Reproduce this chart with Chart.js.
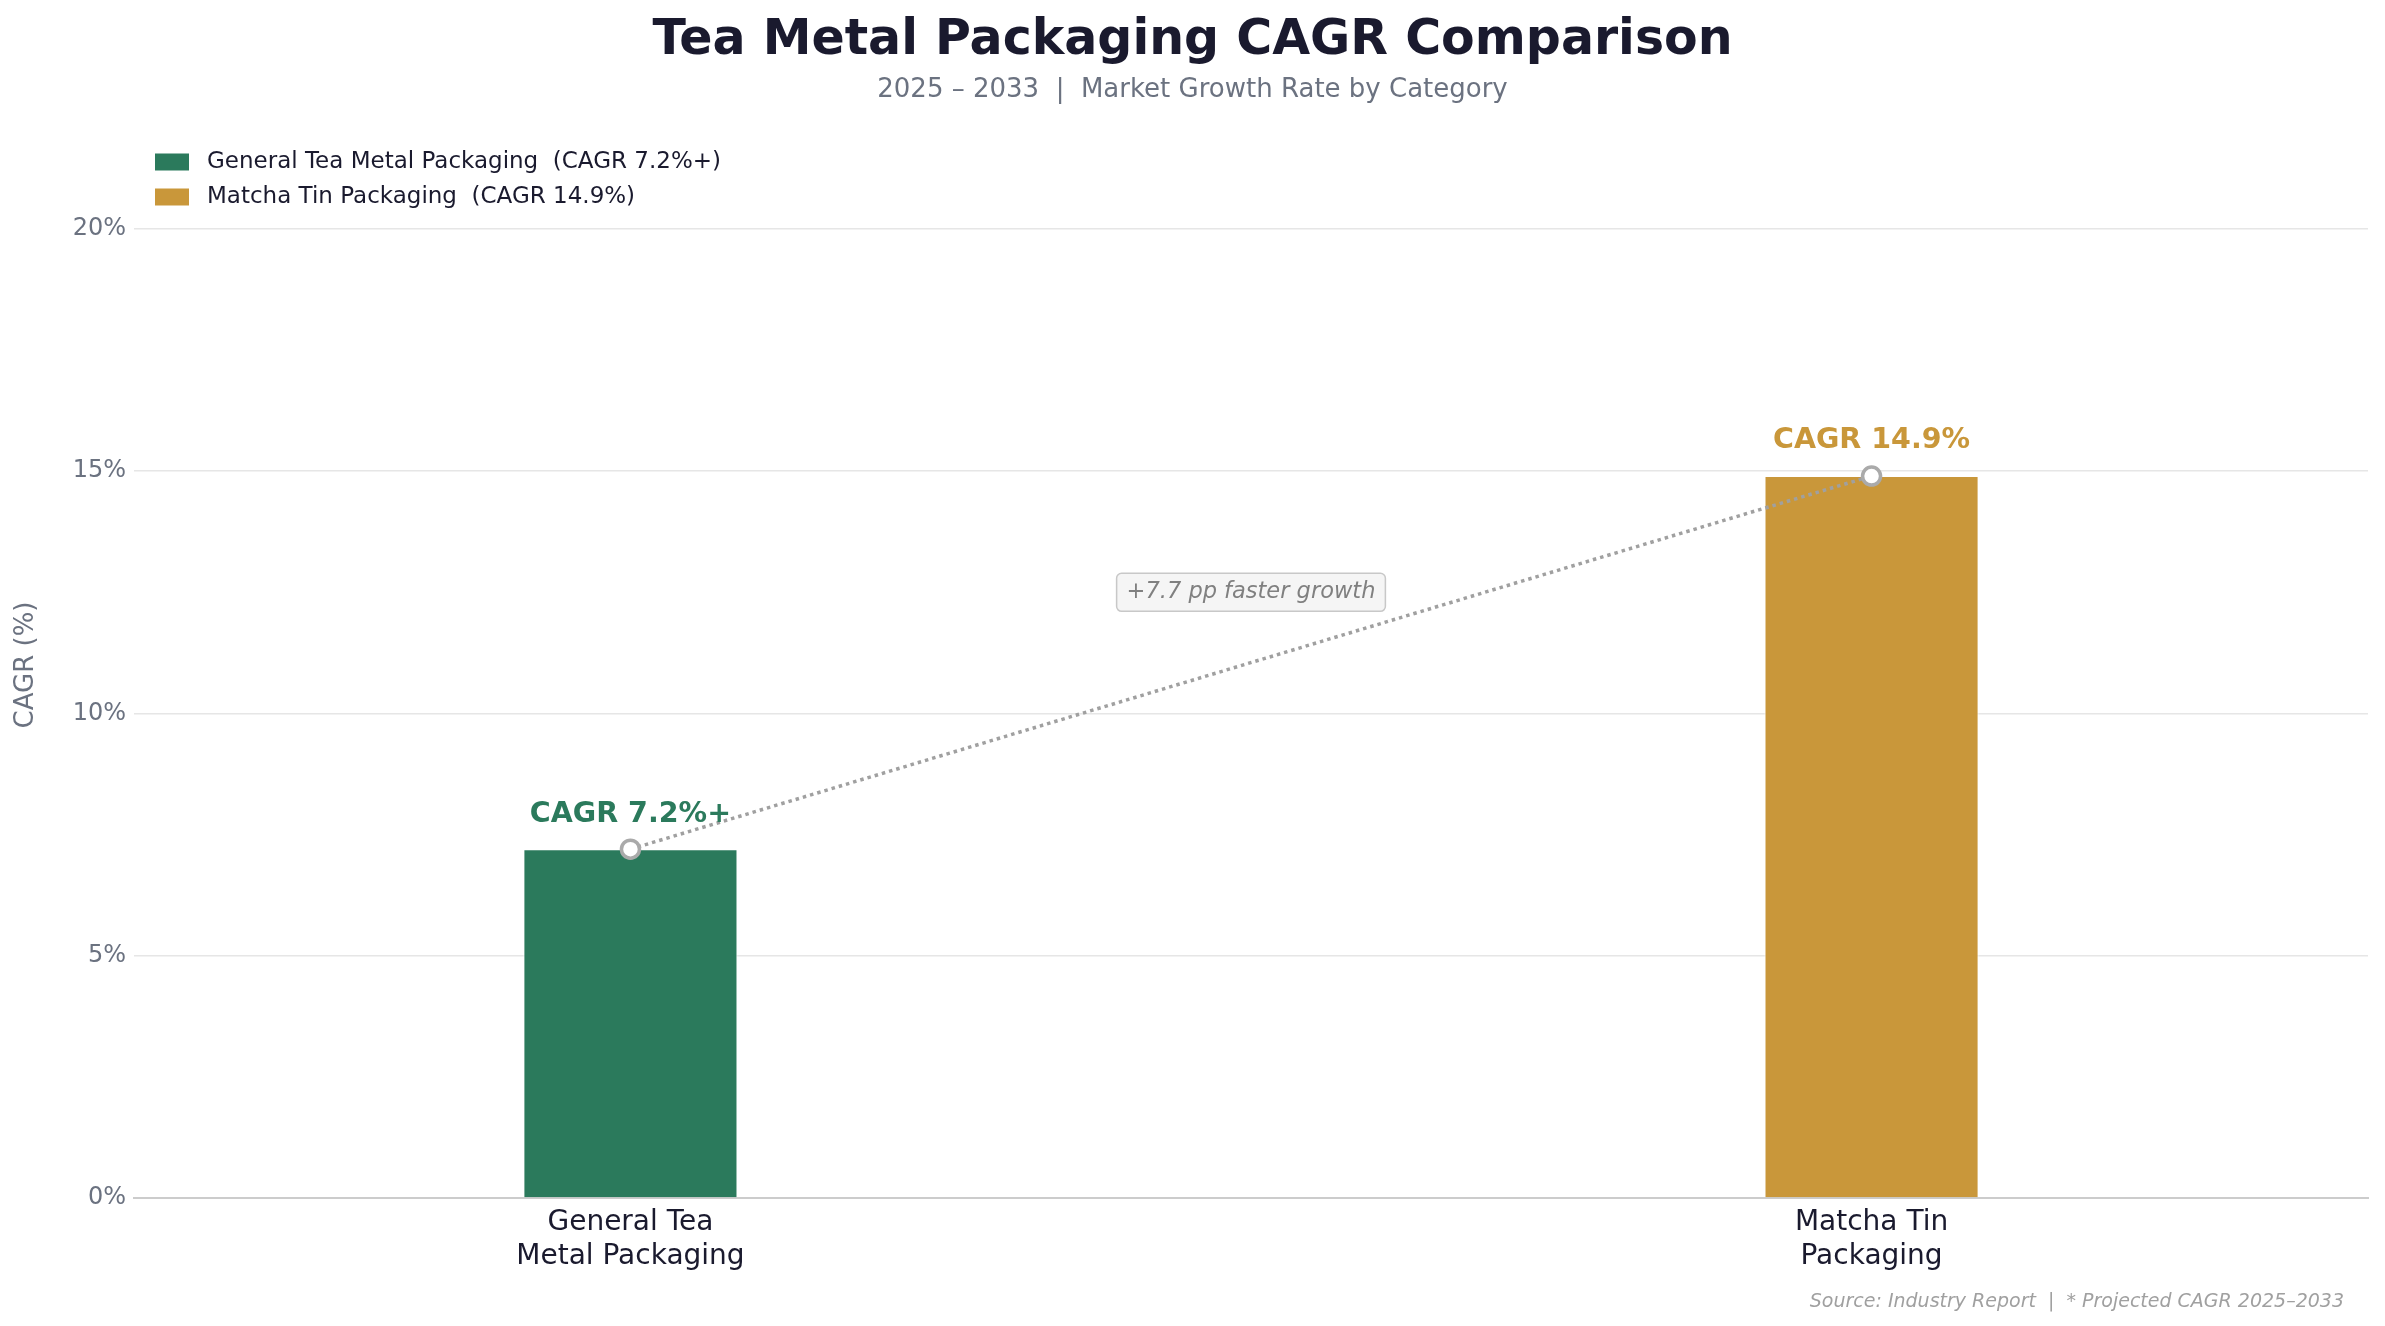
<!DOCTYPE html>
<html>
<head>
<meta charset="utf-8">
<script src="https://cdn.jsdelivr.net/npm/chart.js@4.4.1/dist/chart.umd.min.js"></script>
<style>
  html, body { margin: 0; padding: 0; background: #ffffff; }
  #wrap { width: 2385px; height: 1326px; position: relative; }
</style>
</head>
<body>
<div id="wrap"><canvas id="cagrChart"></canvas></div>
<script>
// chart data
const categories = [['General Tea', 'Metal Packaging'], ['Matcha Tin', 'Packaging']];
const categoryPositions = [0, 1];
const seriesNames = ['General Tea Metal Packaging  (CAGR 7.2%+)', 'Matcha Tin Packaging  (CAGR 14.9%)'];
const cagrValues = [7.2, 14.9];
const valueLabels = ['CAGR 7.2%+', 'CAGR 14.9%'];
const yTicks = [0, 5, 10, 15, 20];
const gapNote = '+7.7 pp faster growth';
const gapNotePos = [0.5, 12.5];

const colors = ['#2b7a5c', '#c9973a'];
const FONT = '"DejaVu Sans", sans-serif';

// titles, legend, value labels, note box
const overlay = {
    id: 'overlay',
    afterDatasetsDraw(chart) {
        const ctx = chart.ctx;
        const xs = chart.scales.x, ys = chart.scales.y;
        ctx.save();

        // value labels above bars
        ctx.textAlign = 'center';
        ctx.textBaseline = 'middle';
        ctx.font = 'bold 28.5px ' + FONT;
        cagrValues.forEach((v, i) => {
            ctx.fillStyle = colors[i];
            ctx.fillText(valueLabels[i], xs.getPixelForValue(categoryPositions[i]), ys.getPixelForValue(v) - 35);
        });

        // note box
        const nx = xs.getPixelForValue(gapNotePos[0]);
        const ny = ys.getPixelForValue(gapNotePos[1]);
        ctx.font = 'italic 22.5px ' + FONT;
        const tw = ctx.measureText(gapNote).width;
        const bw = tw + 20, bh = 38;
        ctx.beginPath();
        ctx.roundRect(nx - bw / 2, ny - bh / 2, bw, bh, 5);
        ctx.fillStyle = '#f5f5f5';
        ctx.fill();
        ctx.lineWidth = 1.5;
        ctx.strokeStyle = '#c8c8c8';
        ctx.stroke();
        ctx.fillStyle = '#808080';
        ctx.fillText(gapNote, nx, ny);

        // title + subtitle
        const cx = chart.width / 2;
        ctx.textBaseline = 'alphabetic';
        ctx.fillStyle = '#1a1a2e';
        ctx.font = 'bold 49px ' + FONT;
        ctx.fillText('Tea Metal Packaging CAGR Comparison', cx, 54);
        ctx.fillStyle = '#6b7280';
        ctx.font = '26px ' + FONT;
        ctx.fillText('2025 \u2013 2033  |  Market Growth Rate by Category', cx, 97);

        // legend
        ctx.textAlign = 'left';
        ctx.textBaseline = 'middle';
        ctx.font = '23px ' + FONT;
        seriesNames.forEach((name, i) => {
            const y = 162 + i * 35;
            ctx.fillStyle = colors[i];
            ctx.fillRect(155, y - 8.5, 34, 17);
            ctx.fillStyle = '#1a1a2e';
            ctx.fillText(name, 207, y);
        });

        // source note
        ctx.textAlign = 'right';
        ctx.textBaseline = 'alphabetic';
        ctx.fillStyle = '#a0a0a0';
        ctx.font = 'italic 19px ' + FONT;
        ctx.fillText('Source: Industry Report  |  * Projected CAGR 2025\u20132033', 2344, 1307);

        ctx.restore();
    }
};

new Chart(document.getElementById('cagrChart'), {
    type: 'bar',
    data: {
        datasets: [
            {
                type: 'line',
                label: 'gap',
                data: categoryPositions.map((x, i) => ({ x: x, y: cagrValues[i] })),
                borderColor: '#a0a0a0',
                borderWidth: 3.5,
                borderDash: [3.5, 4],
                pointRadius: 9,
                pointBorderWidth: 3.5,
                pointBorderColor: '#aaaaaa',
                pointBackgroundColor: '#ffffff',
                order: 0
            },
            ...seriesNames.map((name, i) => ({
                label: name,
                data: [{ x: categoryPositions[i], y: cagrValues[i] }],
                backgroundColor: colors[i],
                borderColor: '#ffffff',
                borderWidth: 1,
                grouped: false,
                categoryPercentage: 1,
                barPercentage: 0.1725,
                order: 1
            }))
        ]
    },
    options: {
        responsive: true,
        maintainAspectRatio: false,
        animation: false,
        layout: { padding: { top: 132, right: 17, bottom: 0, left: 0 } },
        plugins: {
            legend: { display: false },
            title: { display: false },
            tooltip: { enabled: false }
        },
        scales: {
            x: {
                type: 'linear',
                offset: false,
                min: -0.4,
                max: 1.4,
                afterBuildTicks: (s) => { s.ticks = categoryPositions.map(v => ({ value: v })); },
                afterFit: (s) => { s.height = 128; },
                grid: { display: false, drawTicks: false, offset: false },
                border: { display: true, color: '#cccccc', width: 2 },
                ticks: {
                    autoSkip: false,
                    maxRotation: 0,
                    padding: 8,
                    color: '#1a1a2e',
                    font: { family: FONT, size: 28, lineHeight: 1.2 },
                    callback: (v) => categories[categoryPositions.indexOf(v)]
                }
            },
            y: {
                min: 0,
                max: 22,
                afterBuildTicks: (s) => { s.ticks = yTicks.map(v => ({ value: v })); },
                afterFit: (s) => { s.width = 134; },
                grid: { color: '#e6e6e6', lineWidth: 1.5, drawTicks: false },
                border: { display: false },
                ticks: {
                    padding: 8,
                    color: '#6b7280',
                    font: { family: FONT, size: 24 },
                    callback: (v) => v + '%'
                },
                title: {
                    display: true,
                    text: 'CAGR (%)',
                    color: '#6b7280',
                    font: { family: FONT, size: 26, lineHeight: 1.2 },
                    padding: { top: 11, bottom: 0 }
                }
            }
        }
    },
    plugins: [overlay]
});
</script>
</body>
</html>
